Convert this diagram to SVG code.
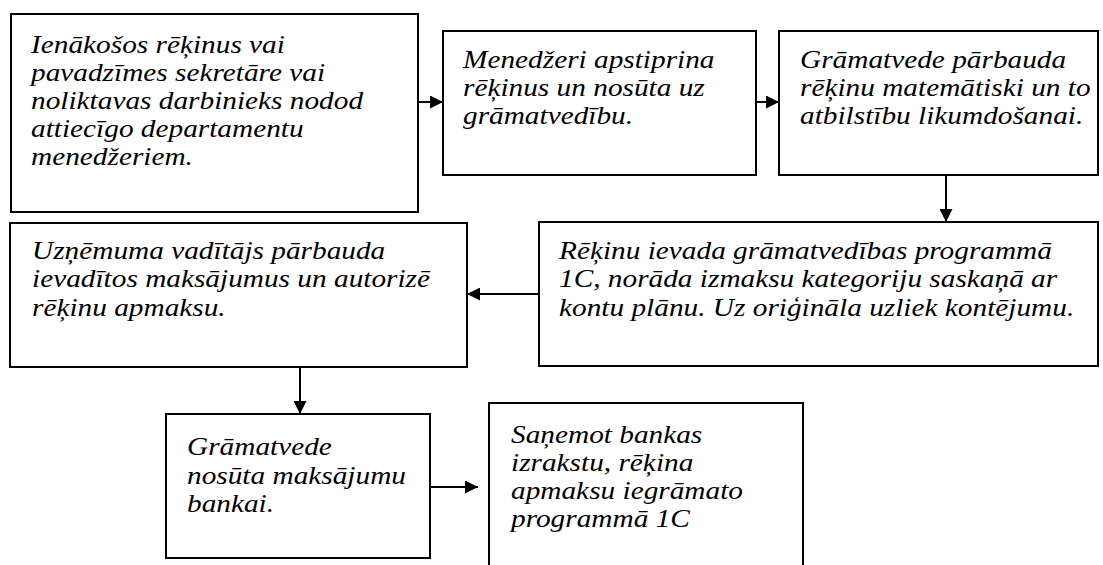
<svg xmlns="http://www.w3.org/2000/svg" width="1103" height="565" viewBox="0 0 1103 565">
<style>
.box{fill:#fff;stroke:#000;stroke-width:2}
.t{font-family:"Liberation Serif","Times New Roman",serif;font-style:italic;font-size:25.2px;fill:#000}
.c{stroke:#000;stroke-width:2;fill:none}
</style>
<defs>
<marker id="ah" viewBox="0 0 10 10" refX="10" refY="5" markerWidth="6.5" markerHeight="6.5" markerUnits="strokeWidth" orient="auto">
<path d="M0,0 L10,5 L0,10 Z" fill="#000"/>
</marker>
</defs>
<rect width="1103" height="565" fill="#fff"/>
<g id="n1">
<rect class="box" x="11" y="14" width="407" height="198"/>
<text class="t" transform="translate(31 0) scale(1.163 1)"><tspan x="0" y="53">Ienākošos rēķinus vai</tspan><tspan x="0" y="81">pavadzīmes sekretāre vai</tspan><tspan x="0" y="109">noliktavas darbinieks nodod</tspan><tspan x="0" y="137">attiecīgo departamentu</tspan><tspan x="0" y="165">menedžeriem.</tspan></text>
</g>
<g id="n2">
<rect class="box" x="443" y="31" width="313" height="144"/>
<text class="t" transform="translate(463 0) scale(1.163 1)"><tspan x="0" y="68">Menedžeri apstiprina</tspan><tspan x="0" y="96">rēķinus un nosūta uz</tspan><tspan x="0" y="124">grāmatvedību.</tspan></text>
</g>
<g id="n3">
<rect class="box" x="779" y="31" width="319" height="144"/>
<text class="t" transform="translate(800 0) scale(1.163 1)"><tspan x="0" y="68">Grāmatvede pārbauda</tspan><tspan x="0" y="96">rēķinu matemātiski un to</tspan><tspan x="0" y="124">atbilstību likumdošanai.</tspan></text>
</g>
<g id="n4">
<rect class="box" x="539" y="222" width="559" height="144"/>
<text class="t" transform="translate(559 0) scale(1.163 1)"><tspan x="0" y="259">Rēķinu ievada grāmatvedības programmā</tspan><tspan x="0" y="287.5">1C, norāda izmaksu kategoriju saskaņā ar</tspan><tspan x="0" y="316">kontu plānu. Uz oriģināla uzliek kontējumu.</tspan></text>
</g>
<g id="n5">
<rect class="box" x="10" y="223" width="457" height="144"/>
<text class="t" transform="translate(32 0) scale(1.163 1)"><tspan x="0" y="259">Uzņēmuma vadītājs pārbauda</tspan><tspan x="0" y="287.5">ievadītos maksājumus un autorizē</tspan><tspan x="0" y="316">rēķinu apmaksu.</tspan></text>
</g>
<g id="n6">
<rect class="box" x="166" y="414" width="264" height="144"/>
<text class="t" transform="translate(187 0) scale(1.163 1)"><tspan x="0" y="455">Grāmatvede</tspan><tspan x="0" y="484">nosūta maksājumu</tspan><tspan x="0" y="512">bankai.</tspan></text>
</g>
<g id="n7">
<rect class="box" x="489" y="403" width="314" height="180"/>
<text class="t" transform="translate(511 0) scale(1.163 1)"><tspan x="0" y="443">Saņemot bankas</tspan><tspan x="0" y="471">izrakstu, rēķina</tspan><tspan x="0" y="499">apmaksu iegrāmato</tspan><tspan x="0" y="527">programmā 1C</tspan></text>
</g>
<g id="connectors">
<line class="c" x1="418" y1="102" x2="443" y2="102" marker-end="url(#ah)"/>
<line class="c" x1="756" y1="102" x2="779" y2="102" marker-end="url(#ah)"/>
<line class="c" x1="946" y1="175" x2="946" y2="222" marker-end="url(#ah)"/>
<line class="c" x1="539" y1="294" x2="467" y2="294" marker-end="url(#ah)"/>
<line class="c" x1="300" y1="367" x2="300" y2="414" marker-end="url(#ah)"/>
<line class="c" x1="430" y1="487" x2="478" y2="487" marker-end="url(#ah)"/>
</g>
</svg>
